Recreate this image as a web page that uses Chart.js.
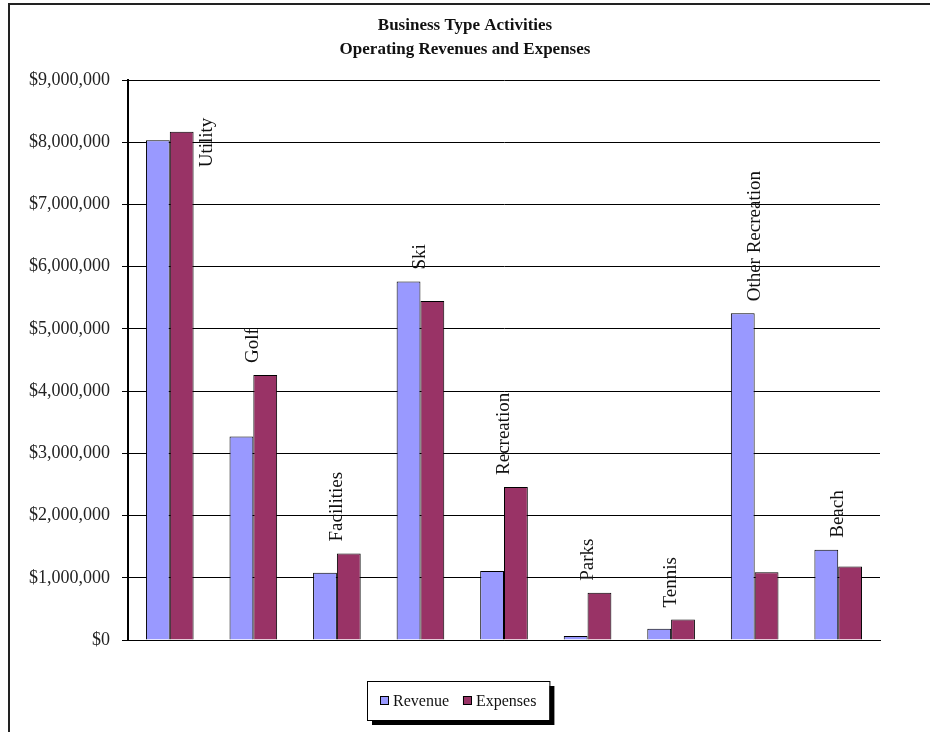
<!DOCTYPE html>
<html>
<head>
<meta charset="utf-8">
<title>Business Type Activities</title>
<script src="https://cdn.jsdelivr.net/npm/chart.js@4.4.1/dist/chart.umd.min.js"></script>
<style>
  html, body { margin: 0; padding: 0; background: #fff; }
  canvas { display: block; }
</style>
</head>
<body>
<canvas id="chart" width="930" height="732"></canvas>
<script>
// ---------------- data ----------------
const categories = ['Utility', 'Golf', 'Facilities', 'Ski', 'Recreation', 'Parks', 'Tennis', 'Other Recreation', 'Beach'];
const revenue  = [8030000, 3270000, 1080000, 5760000, 1110000, 65000, 180000, 5250000, 1450000];
const expenses = [8170000, 4260000, 1390000, 5450000, 2460000, 760000, 330000, 1090000, 1180000];
const titleLines = ['Business Type Activities', 'Operating Revenues and Expenses'];
const yTicks = [0, 1000000, 2000000, 3000000, 4000000, 5000000, 6000000, 7000000, 8000000, 9000000];

// ---------------- config ----------------
const config = {
  font: '"Liberation Serif", "Times New Roman", serif',
  revenueColor: '#9999FF',
  expensesColor: '#993366',
  textColor: '#111'
};

const money = v => '$' + Number(v).toLocaleString('en-US');

// frame, title, rotated category labels, legend with shadow
const decorations = {
  id: 'decorations',
  beforeDraw(chart) {
    const ctx = chart.ctx;
    ctx.save();
    ctx.fillStyle = '#fff';
    ctx.fillRect(0, 0, chart.width, chart.height);
    // outer frame (right and bottom run off the picture)
    ctx.strokeStyle = '#222';
    ctx.lineWidth = 2;
    ctx.beginPath();
    ctx.moveTo(9, chart.height + 5);
    ctx.lineTo(9, 4);
    ctx.lineTo(chart.width + 5, 4);
    ctx.stroke();
    // title
    ctx.fillStyle = config.textColor;
    ctx.font = 'bold 17px ' + config.font;
    ctx.textAlign = 'center';
    ctx.textBaseline = 'middle';
    titleLines.forEach((line, i) => ctx.fillText(line, chart.width / 2, 26 + i * 24));
    ctx.restore();
  },
  afterDatasetsDraw(chart) {
    const ctx = chart.ctx;
    const area = chart.chartArea;
    const y = chart.scales.y;
    const m0 = chart.getDatasetMeta(0);
    const m1 = chart.getDatasetMeta(1);
    ctx.save();
    ctx.fillStyle = config.textColor;
    ctx.font = '19px ' + config.font;
    ctx.textBaseline = 'middle';
    categories.forEach((name, i) => {
      const b0 = m0.data[i], b1 = m1.data[i];
      const top = y.getPixelForValue(Math.max(revenue[i], expenses[i]));
      const w = ctx.measureText(name).width;
      let cx = (b0.x + b1.x) / 2;
      let bottom = top - 12;
      if (bottom - w < area.top + 4) {
        // no room above: put it beside the group
        cx = b1.x + b1.width / 2 + 13;
        bottom = top - 14 + w;
      }
      ctx.save();
      ctx.translate(cx, bottom);
      ctx.rotate(-Math.PI / 2);
      ctx.textAlign = 'left';
      ctx.fillText(name, 0, 0);
      ctx.restore();
    });
    ctx.restore();
  },
  afterDraw(chart) {
    const ctx = chart.ctx;
    const area = chart.chartArea;
    const items = chart.data.datasets.map(ds => ({ label: ds.label, color: ds.backgroundColor }));
    ctx.save();
    ctx.font = '16px ' + config.font;
    const sw = 9, gap = 4, itemGap = 14, padX = 13;
    let total = padX * 2;
    items.forEach((it, i) => {
      total += sw + gap + ctx.measureText(it.label).width + (i < items.length - 1 ? itemGap : 0);
    });
    const boxH = 39;
    const left = Math.round(chart.width / 2 - total / 2 - 7);
    const top = Math.round(area.bottom + 41);
    // shadow
    ctx.fillStyle = '#000';
    ctx.fillRect(left + 5, top + 5, total, boxH);
    ctx.fillStyle = '#fff';
    ctx.fillRect(left, top, total, boxH);
    ctx.strokeStyle = '#000';
    ctx.lineWidth = 1;
    ctx.strokeRect(left + 0.5, top + 0.5, total, boxH);
    let x = left + padX;
    const cy = top + boxH / 2;
    ctx.textBaseline = 'middle';
    ctx.textAlign = 'left';
    items.forEach(it => {
      ctx.fillStyle = it.color;
      ctx.fillRect(x, cy - sw / 2, sw, sw);
      ctx.strokeStyle = '#000';
      ctx.strokeRect(x + 0.5, cy - sw / 2 + 0.5, sw - 1, sw - 1);
      x += sw + gap;
      ctx.fillStyle = config.textColor;
      ctx.fillText(it.label, x, cy + 1);
      x += ctx.measureText(it.label).width + itemGap;
    });
    ctx.restore();
  }
};

new Chart(document.getElementById('chart'), {
  type: 'bar',
  data: {
    labels: categories,
    datasets: [
      { label: 'Revenue', data: revenue, backgroundColor: config.revenueColor, borderColor: '#000', borderWidth: 1, borderSkipped: 'bottom' },
      { label: 'Expenses', data: expenses, backgroundColor: config.expensesColor, borderColor: '#000', borderWidth: 1, borderSkipped: 'bottom' }
    ]
  },
  options: {
    responsive: false,
    animation: false,
    events: [],
    layout: { padding: { top: 80, right: 50, bottom: 92, left: 0 } },
    datasets: { bar: { categoryPercentage: 0.57, barPercentage: 1.0 } },
    plugins: {
      legend: { display: false },
      title: { display: false },
      tooltip: { enabled: false }
    },
    scales: {
      x: {
        grid: { display: false },
        border: { display: true, color: '#000', width: 1 },
        ticks: { display: false },
        afterFit(scale) { scale.height = 0; }
      },
      y: {
        min: 0,
        max: 9000000,
        afterBuildTicks(scale) { scale.ticks = yTicks.map(v => ({ value: v })); },
        grid: { color: '#000', lineWidth: 1, tickLength: 6, drawTicks: true },
        border: { display: true, color: '#000', width: 2 },
        ticks: {
          padding: 12,
          color: '#222',
          font: { family: config.font, size: 18 },
          callback: v => money(v)
        },
        afterFit(scale) { scale.width = 128; }
      }
    }
  },
  plugins: [decorations]
});
</script>
</body>
</html>
